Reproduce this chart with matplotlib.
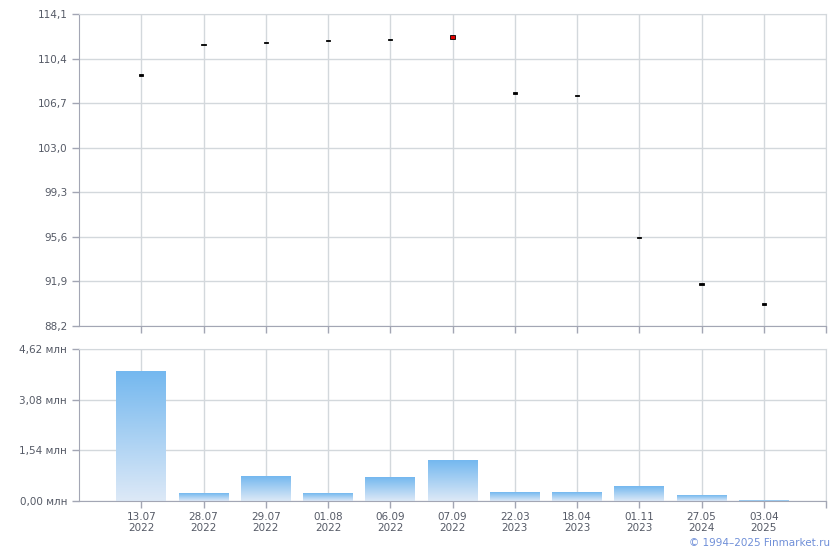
import numpy as np
import matplotlib
matplotlib.use("Agg")
import matplotlib.pyplot as plt
from matplotlib.colors import LinearSegmentedColormap
from matplotlib.ticker import NullFormatter

# trade dates (x categories)
dates = ["13.07\n2022", "28.07\n2022", "29.07\n2022", "01.08\n2022", "06.09\n2022",
         "07.09\n2022", "22.03\n2023", "18.04\n2023", "01.11\n2023", "27.05\n2024",
         "03.04\n2025"]
# prices (open / close)
open_ = [109.08, 111.53, 111.76, 111.93, 112.00, 112.35, 107.53, 107.36, 95.52, 91.68, 90.02]
close = [108.97, 111.50, 111.66, 111.88, 111.95, 112.05, 107.50, 107.31, 95.47, 91.63, 89.97]
# volume, mln
volume = [3.95, 0.24, 0.73, 0.24, 0.70, 1.22, 0.27, 0.27, 0.43, 0.18, 0.03]

price_ticks = [88.2, 91.9, 95.6, 99.3, 103.0, 106.7, 110.4, 114.1]
vol_ticks = [0.0, 1.54, 3.08, 4.62]

grid_col = "#d3d8dc"
spine_col = "#a3a6b4"
text_col = "#555a66"
fs = 7.5

fig = plt.figure(figsize=(8.4, 5.5), dpi=100)
ax1 = fig.add_axes([79/840, 1-326/550, 747/840, 312/550])
ax2 = fig.add_axes([79/840, 1-501/550, 747/840, 152/550])

x = np.arange(len(dates))

for ax in (ax1, ax2):
    ax.set_xlim(-1, len(dates))
    ax.set_xticks(list(x) + [len(dates)])
    ax.grid(True, color=grid_col, linewidth=1)
    ax.set_axisbelow(True)
    for s in ("top", "right"):
        ax.spines[s].set_color(grid_col)
    for s in ("left", "bottom"):
        ax.spines[s].set_color(spine_col)
    ax.tick_params(axis="both", colors=spine_col, labelcolor=text_col,
                   labelsize=fs, length=5, width=1)

# --- price panel
ax1.set_ylim(price_ticks[0], price_ticks[-1])
ax1.set_yticks(price_ticks)
ax1.set_yticklabels([f"{v:.1f}".replace(".", ",") for v in price_ticks])
ax1.xaxis.set_major_formatter(NullFormatter())
min_h = 0.1
for i in x:
    o, c = open_[i], close[i]
    h = max(abs(c - o), min_h)
    col = "#e00000" if c < o - 0.2 else "black"
    ax1.bar(i, h, bottom=min(o, c), width=0.07, color=col,
            edgecolor="black", linewidth=0.6, zorder=3)

# --- volume panel
ax2.set_ylim(0, vol_ticks[-1])
ax2.set_yticks(vol_ticks)
ax2.set_yticklabels([f"{v:.2f}".replace(".", ",") + " млн" for v in vol_ticks])
ax2.set_xticklabels(dates + [""], linespacing=1.1)
ax2.tick_params(axis="x", pad=3)

cmap = LinearSegmentedColormap.from_list("vol", ["#dde9f7", "#74b8ef"])
grad = np.linspace(0, 1, 256).reshape(-1, 1)
bw = 0.8
for i in x:
    ax2.imshow(grad, cmap=cmap, origin="lower", aspect="auto",
               extent=(i - bw/2, i + bw/2, 0, volume[i]), zorder=2)
ax2.set_xlim(-1, len(dates))
ax2.set_ylim(0, vol_ticks[-1])

fig.text(830/840, 1-543/550, "© 1994–2025 Finmarket.ru", color="#6f8fd8",
         fontsize=7.5, ha="right", va="center")

fig.savefig("out.png", dpi=100)
